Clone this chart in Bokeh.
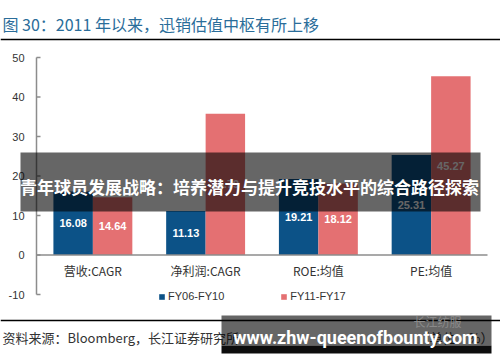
from bokeh.plotting import figure
from bokeh.models import (ColumnDataSource, Range1d, Legend, LegendItem, Label, BoxAnnotation)
from bokeh.core.properties import value
from bokeh.embed import file_html
from bokeh.resources import INLINE

# ---- data ----
categories = ["营收:CAGR", "净利润:CAGR", "ROE:均值", "PE:均值"]
series_names = ["FY06-FY10", "FY11-FY17"]
fy06_fy10 = [16.08, 11.13, 19.21, 25.31]
fy11_fy17 = [14.64, 35.79, 18.12, 45.27]
y_ticks = [-10, 0, 10, 20, 30, 40, 50]
y_tick_labels = ["-10", "0", "10", "20", "30", "40", "50"]

title_text = "图 30：2011 年以来，迅销估值中枢有所上移"
source_text = "资料来源：Bloomberg，长江证券研究所"
unit_text = "（单位：%）"
overlay1_text = "青年球员发展战略：培养潜力与提升竞技水平的综合路径探索"
overlay2_text = "www.zhw-queenofbounty.com"
overlay2_mark = "长江纺服"

BLUE = "#0c5287"
RED = "#e47072"
AXIS = "#8c8c8c"
CJK = "Noto Sans CJK SC"
LAT = "Liberation Sans"

# ---- layout (pixels) ----
W, H = 500, 362
plot_left, plot_right = 36, 487          # x pixels of the category area
y_top_px, y_bot_px = 57, 294             # pixels of max / min tick
ymin, ymax = min(y_ticks), max(y_ticks)
ppu = (y_bot_px - y_top_px) / (ymax - ymin)
ncat = len(categories)
ppc = (plot_right - plot_left) / ncat

x_range = Range1d(-plot_left / ppc, ncat + (W - plot_right) / ppc)
y_range = Range1d(ymin - (H - y_bot_px) / ppu, ymax + y_top_px / ppu)

p = figure(width=W, height=H, x_range=x_range, y_range=y_range,
           x_axis_location=None, y_axis_location=None,
           output_backend="svg", toolbar_location=None, min_border=0)
p.outline_line_color = None
p.grid.visible = False

pos = [i + 0.5 for i in range(ncat)]
off = 0.175
src = ColumnDataSource(dict(
    x=pos, xa=[v - off for v in pos], xb=[v + off for v in pos],
    a=fy06_fy10, b=fy11_fy17,
    ah=[v / 2 for v in fy06_fy10], bh=[v / 2 for v in fy11_fy17],
    al=["%.2f" % v for v in fy06_fy10], bl=["%.2f" % v for v in fy11_fy17],
    cat=categories, zero=[0] * ncat))

r1 = p.vbar(x="xa", top="a", width=0.35, source=src, fill_color=BLUE, line_color=None)
r2 = p.vbar(x="xb", top="b", width=0.35, source=src, fill_color=RED, line_color=None)

for xc, yc, lab in (("xa", "ah", "al"), ("xb", "bh", "bl")):
    p.text(x=xc, y=yc, text=lab, source=src,
           text_color="white", text_font=value(LAT), text_font_style="bold",
           text_font_size="11px", text_align="center", text_baseline="middle")

# y axis (from tick list)
tsrc = ColumnDataSource(dict(y=y_ticks, lab=y_tick_labels, x=[0] * len(y_ticks)))
p.segment(x0=0, x1=0, y0=ymin, y1=ymax, line_color=AXIS, line_width=1.5)
p.ray(x="x", y="y", length=4, length_units="screen", angle=0, source=tsrc,
      line_color=AXIS, line_width=1.5)
p.text(x="x", y="y", text="lab", source=tsrc, x_offset=-12, text_align="right",
       text_baseline="middle", text_font=value(LAT), text_font_size="11px",
       text_color="#333333")

# zero baseline
p.segment(x0=0, x1=ncat, y0=0, y1=0, line_color=AXIS, line_width=1.5)

# category labels
p.text(x="x", y="zero", text="cat", source=src, y_offset=15,
       text_color="#333333", text_font=value(CJK), text_font_size="12px",
       text_align="center", text_baseline="middle")

legend = Legend(items=[LegendItem(label=series_names[0], renderers=[r1]),
                       LegendItem(label=series_names[1], renderers=[r2])],
                orientation="horizontal", location=(158, 60),
                glyph_width=7, glyph_height=7, label_height=12, label_standoff=3,
                spacing=56, padding=0, margin=0, border_line_color=None,
                background_fill_alpha=0, label_text_font=LAT,
                label_text_font_size="11px", label_text_color="#333333",
                label_text_baseline="middle")
p.add_layout(legend, "center")


def lbl(x, y, text, **kw):
    p.add_layout(Label(x=x, y=y, x_units="canvas", y_units="canvas", text=text, **kw))


def box(l, r, t, b, color, alpha):
    p.add_layout(BoxAnnotation(left=l, right=r, top=t, bottom=b,
                               left_units="canvas", right_units="canvas",
                               top_units="canvas", bottom_units="canvas",
                               fill_color=color, fill_alpha=alpha, line_color=None))


# title and rules
lbl(2, 23, title_text, text_font=CJK, text_font_size="16px", text_color="#2a6d9a",
    text_baseline="middle")
box(0, W, 38.2, 39.8, "black", 1.0)
box(0, W, 319.3, 320.8, "black", 1.0)
lbl(2, 337, source_text, text_font=CJK, text_font_size="13px", text_color="#333333",
    text_baseline="middle")
lbl(493, 337, unit_text, text_font=CJK, text_font_size="13px", text_color="#333333",
    text_baseline="middle", text_align="right")

# overlays
box(20, 480, 152, 211, "black", 0.6)
lbl(249, 186, overlay1_text, text_font=CJK, text_font_size="17px", text_font_style="bold",
    text_color="white", text_baseline="middle", text_align="center")
box(221, 491, 315, 345, "black", 0.6)
box(221, 491, 345, 353, "black", 0.95)
lbl(437, 321, overlay2_mark, text_font=CJK, text_font_size="12px", text_color="#8a8a8a",
    text_baseline="middle", text_align="center")
lbl(355, 337, overlay2_text, text_font="Roboto", text_font_size="18px", text_font_style="bold",
    text_color="white", text_baseline="middle", text_align="center")

open("out.html", "w").write(file_html(p, INLINE))
